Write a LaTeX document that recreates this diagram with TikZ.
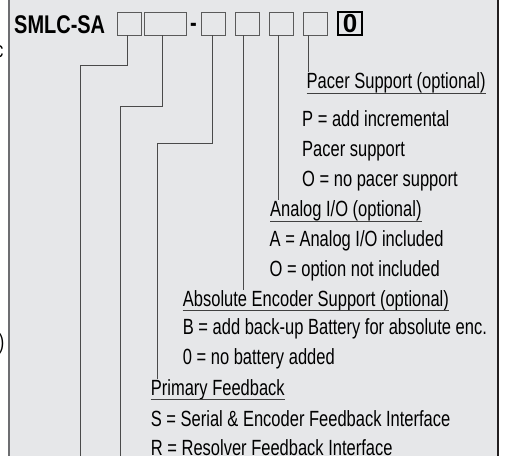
\documentclass[tikz,border=0pt]{standalone}
\usepackage{fontspec}
\setmainfont{Liberation Sans}[FakeStretch=0.75]
\newfontfamily\headfont{Liberation Sans}[FakeStretch=0.78]
\newfontfamily\plainfont{Liberation Sans}
\usetikzlibrary{positioning}
\definecolor{panel}{HTML}{E6E7E9}
\definecolor{boxgray}{HTML}{5A5A5A}
\definecolor{wiregray}{HTML}{4A4A4A}
\definecolor{leftedge}{HTML}{6D6E71}
\definecolor{rightedge}{HTML}{231F20}

\begin{document}
\begin{tikzpicture}[x=1pt, y=-1pt,
every node/.style = {inner sep=0pt, anchor=base west, font=\fontsize{22}{24}\selectfont},
      slot/.style = {draw=boxgray, line width=0.8pt, minimum width=24pt,
                     minimum height=23pt, anchor=center},
      wire/.style = {draw=wiregray, line width=0.8pt},
     uline/.style = {draw=black!75, line width=0.8pt}
                    ]
\useasboundingbox (0,0) rectangle (507,456);
\fill[panel] (9,-2) rectangle (498,460);
\draw[leftedge, line width=2pt] (8.5,-2) -- (8.5,460);
\draw[rightedge, line width=2pt] (498,-2) -- (498,460);

% bits of the next column, cut off
\node (cutc) [anchor=base east] at (3.5,57) {c};
\node (cutp) [anchor=base east] at (4.5,349) {)};

% order code
\node (title) [font=\headfont\fontsize{25.6}{26}\selectfont\bfseries] at (14,33.3) {SMLC-SA};
\node[slot] (b1) at (129,23.5) {};
\node[slot, minimum width=42pt] (b2) at (165,23.5) {};
\node (dash) [anchor=base, font=\headfont\fontsize{25.6}{26}\selectfont\bfseries] at (193.5,31.5) {-};
\foreach \i/\x in {3/213, 4/247, 5/281.5, 6/315}
    \node[slot] (b\i) at (\x,23.5) {};
\node[slot, draw=black, line width=1.2pt,
      font=\plainfont\fontsize{26}{26}\selectfont\bfseries] (b7) at (350,23.5) {0};

% options
\node (pacerhd)  at (306.5,88.5) {Pacer Support (optional)};
\node (pacer1)   at (302,126.5)  {P = add incremental};
\node (pacer2)   at (302,156.5)  {Pacer support};
\node (pacer3)   at (302,186.5)  {O = no pacer support};
\node (analoghd) at (270,216.5)  {Analog I/O (optional)};
\node (analog1)  at (269.5,246.5) {A = Analog I/O included};
\node (analog2)  at (269.5,276.5) {O = option not included};
\node (abshd)    at (182.7,306)  {Absolute Encoder Support (optional)};
\node (abs1)     at (182.7,334)  {B = add back-up Battery for absolute enc.};
\node (abs2)     at (182.7,364)  {0 = no battery added};
\node (primhd)   at (150.7,395)  {Primary Feedback};
\node (prim1)    at (150.7,426)  {S = Serial \& Encoder Feedback Interface};
\node (prim2)    at (150.7,455)  {R = Resolver Feedback Interface};

\foreach \n in {pacerhd, analoghd, abshd, primhd}
    \draw[uline] ([yshift=-4.8pt]\n.base west) -- ([yshift=-4.8pt]\n.base east);

% leader lines
\coordinate (t1) at ([xshift=-1.5pt]b1.south);
\coordinate (t2) at ([xshift=-3pt]b2.south);
\coordinate (t3) at ([xshift=-0.3pt]b3.south);
\coordinate (t4) at ([xshift=-4pt]b4.south);
\coordinate (t5) at ([xshift=-3.5pt]b5.south);
\coordinate (t6) at ([xshift=-7pt]b6.south);
\coordinate (e1) at (80,460);
\coordinate (e2) at (120.7,460);
\draw[wire] (t1) -- ++(0,30) -| (e1);
\draw[wire] (t2) -- ++(0,71) -| (e2);
\draw[wire] (t3) -- ++(0,108) -| ([xshift=6.3pt]primhd.north west);
\draw[wire] (t4) -- (t4 |- abshd.north);
\draw[wire] (t5) -- (t5 |- analoghd.north);
\draw[wire] (t6) -- (t6 |- pacerhd.north);
\end{tikzpicture}
\end{document}
